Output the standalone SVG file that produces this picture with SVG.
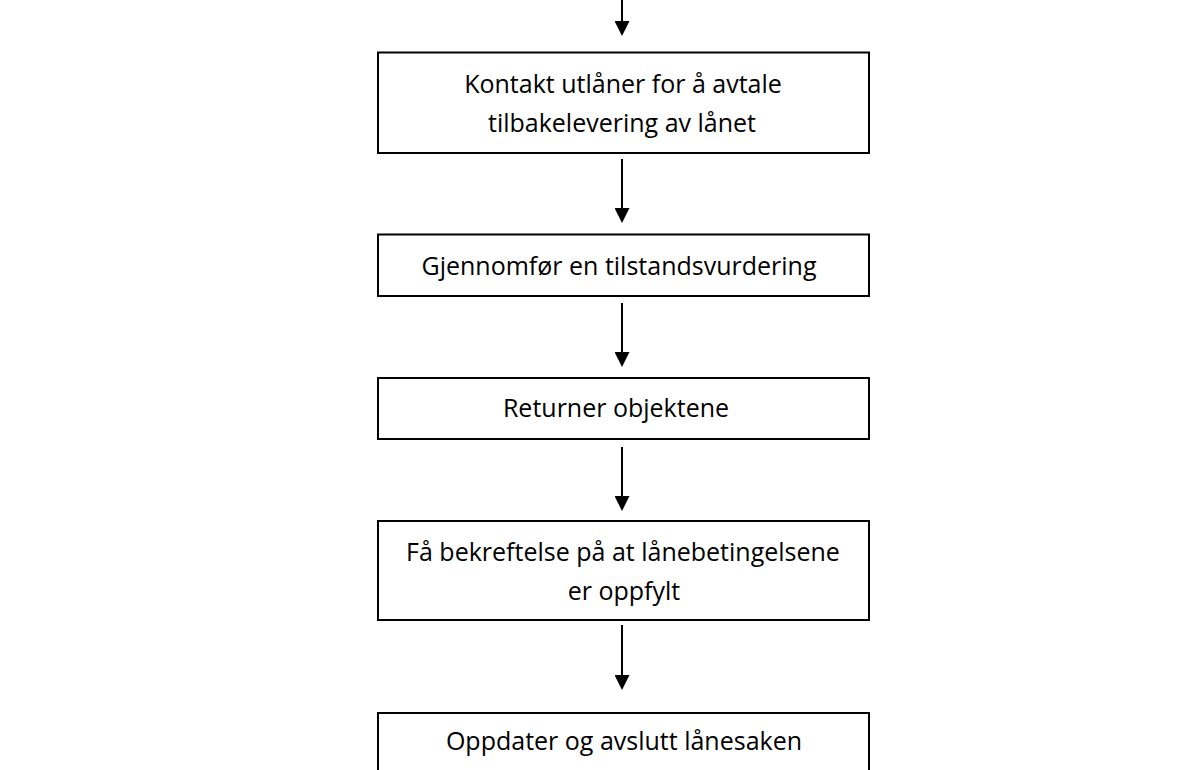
<svg xmlns="http://www.w3.org/2000/svg" width="1193" height="770" viewBox="0 0 1193 770">
  <style>
    .box { fill: #ffffff; stroke: #000000; stroke-width: 2; }
    .lbl { font-family: "Open Sans", "Liberation Sans", sans-serif; font-size: 25px; fill: #000000; text-anchor: middle; }
    .flow { stroke: #000000; stroke-width: 2; fill: none; marker-end: url(#head); }
  </style>
  <defs>
    <marker id="head" markerUnits="userSpaceOnUse" markerWidth="15" markerHeight="15" refX="1" refY="7.5" orient="auto">
      <path d="M0,0 L15,7.5 L0,15 Z" fill="#000000"/>
    </marker>
  </defs>
  <rect width="1193" height="770" fill="#ffffff"/>

  <g id="connectors">
    <path class="flow" d="M622,0 V22"/>
    <path class="flow" d="M622,159 V209"/>
    <path class="flow" d="M622,303 V353"/>
    <path class="flow" d="M622,447 V497"/>
    <path class="flow" d="M622,625 V676"/>
  </g>

  <g id="contact-lender">
    <rect class="box" x="378" y="52.5" width="491" height="100.5"/>
    <text class="lbl" x="623" y="92.5">Kontakt utlåner for å avtale</text>
    <text class="lbl" x="622" y="131.5">tilbakelevering av lånet</text>
  </g>

  <g id="condition-check">
    <rect class="box" x="378" y="234.5" width="491" height="61.5"/>
    <text class="lbl" x="619" y="274.5">Gjennomfør en tilstandsvurdering</text>
  </g>

  <g id="return-objects">
    <rect class="box" x="378" y="378" width="491" height="61"/>
    <text class="lbl" x="616" y="416.5">Returner objektene</text>
  </g>

  <g id="confirm-terms">
    <rect class="box" x="378" y="521" width="491" height="99"/>
    <text class="lbl" x="623" y="560.5">Få bekreftelse på at lånebetingelsene</text>
    <text class="lbl" x="624" y="599.5">er oppfylt</text>
  </g>

  <g id="close-case">
    <rect class="box" x="378" y="713" width="491" height="70"/>
    <text class="lbl" x="624" y="750">Oppdater og avslutt lånesaken</text>
  </g>
</svg>
